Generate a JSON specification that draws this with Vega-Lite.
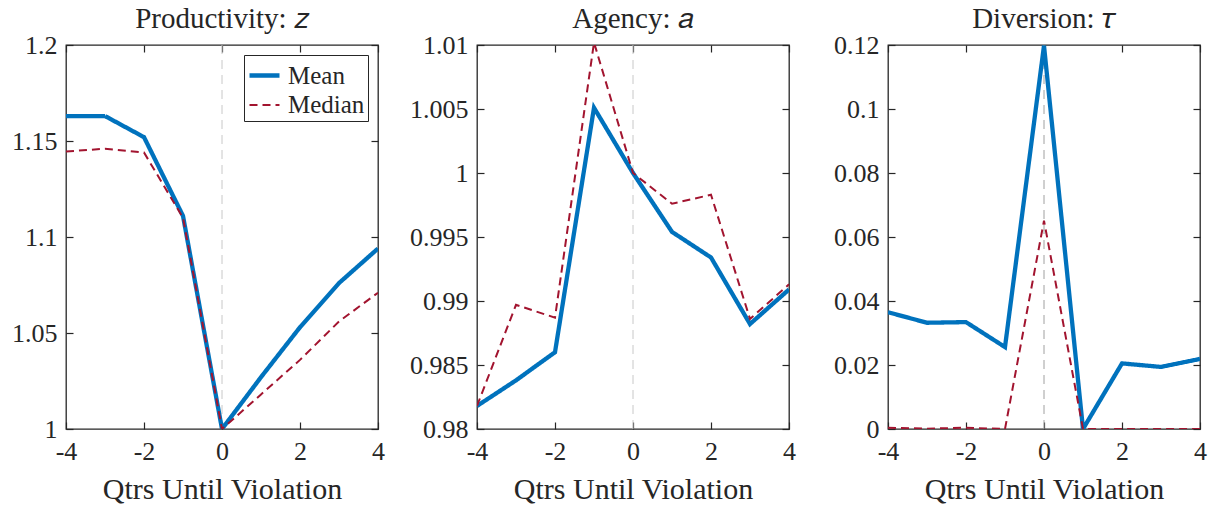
{
  "$schema": "https://vega.github.io/schema/vega-lite/v6.json",
  "background": "white",
  "padding": {"left": 10, "top": 4, "right": 5, "bottom": 2},
  "bounds": "flush",
  "spacing": 99,
  "config": {
    "font": "Liberation Serif",
    "view": {"stroke": "#262626", "strokeWidth": 1.3},
    "axis": {
      "labelFont": "Liberation Serif", "labelFontSize": 26, "labelColor": "#262626",
      "titleFont": "Liberation Serif", "titleFontSize": 30, "titleFontWeight": "normal", "titleColor": "#262626",
      "grid": false, "domain": false, "tickColor": "#262626", "tickSize": -7, "tickWidth": 1.2,
      "labelPadding": 16, "titlePadding": 10, "labelFlush": false, "labelOverlap": false
    },
    "title": {"font": "Liberation Serif", "fontSize": 29, "fontWeight": "normal", "color": "#262626", "offset": -2}
  },
  "datasets": {
    "z": [
      {"q": -4, "series": "Mean", "value": 1.163}, {"q": -3, "series": "Mean", "value": 1.163},
      {"q": -2, "series": "Mean", "value": 1.152}, {"q": -1, "series": "Mean", "value": 1.111},
      {"q": 0, "series": "Mean", "value": 1.0}, {"q": 1, "series": "Mean", "value": 1.027},
      {"q": 2, "series": "Mean", "value": 1.053}, {"q": 3, "series": "Mean", "value": 1.076},
      {"q": 4, "series": "Mean", "value": 1.094},
      {"q": -4, "series": "Median", "value": 1.1445}, {"q": -3, "series": "Median", "value": 1.146},
      {"q": -2, "series": "Median", "value": 1.144}, {"q": -1, "series": "Median", "value": 1.110},
      {"q": 0, "series": "Median", "value": 1.0}, {"q": 1, "series": "Median", "value": 1.018},
      {"q": 2, "series": "Median", "value": 1.036}, {"q": 3, "series": "Median", "value": 1.056},
      {"q": 4, "series": "Median", "value": 1.071}
    ],
    "a": [
      {"q": -4, "series": "Mean", "value": 0.9818}, {"q": -3, "series": "Mean", "value": 0.9838},
      {"q": -2, "series": "Mean", "value": 0.9860}, {"q": -1, "series": "Mean", "value": 1.0051},
      {"q": 0, "series": "Mean", "value": 1.0}, {"q": 1, "series": "Mean", "value": 0.9954},
      {"q": 2, "series": "Mean", "value": 0.9934}, {"q": 3, "series": "Mean", "value": 0.9882},
      {"q": 4, "series": "Mean", "value": 0.9909},
      {"q": -4, "series": "Median", "value": 0.9818}, {"q": -3, "series": "Median", "value": 0.9897},
      {"q": -2, "series": "Median", "value": 0.9887}, {"q": -1, "series": "Median", "value": 1.0102},
      {"q": 0, "series": "Median", "value": 1.0}, {"q": 1, "series": "Median", "value": 0.9976},
      {"q": 2, "series": "Median", "value": 0.9983}, {"q": 3, "series": "Median", "value": 0.9886},
      {"q": 4, "series": "Median", "value": 0.9913}
    ],
    "tau": [
      {"q": -4, "series": "Mean", "value": 0.0365}, {"q": -3, "series": "Mean", "value": 0.0332},
      {"q": -2, "series": "Mean", "value": 0.0334}, {"q": -1, "series": "Mean", "value": 0.0256},
      {"q": 0, "series": "Mean", "value": 0.1198}, {"q": 1, "series": "Mean", "value": 0.0},
      {"q": 2, "series": "Mean", "value": 0.0205}, {"q": 3, "series": "Mean", "value": 0.0194},
      {"q": 4, "series": "Mean", "value": 0.0219},
      {"q": -4, "series": "Median", "value": 0.0004}, {"q": -3, "series": "Median", "value": 0.0001},
      {"q": -2, "series": "Median", "value": 0.0004}, {"q": -1, "series": "Median", "value": 0.0},
      {"q": 0, "series": "Median", "value": 0.0651}, {"q": 1, "series": "Median", "value": 0.0},
      {"q": 2, "series": "Median", "value": 0.0}, {"q": 3, "series": "Median", "value": 0.0},
      {"q": 4, "series": "Median", "value": 0.0}
    ],
    "zero": [{"q": 0}]
  },
  "resolve": {"scale": {"color": "independent", "strokeDash": "independent", "strokeWidth": "independent"}},
  "hconcat": [
    {
      "width": 312, "height": 384,
      "title": "Productivity: 𝑧",
      "resolve": {"axis": {"x": "independent", "y": "independent"}},
      "layer": [
        {
          "data": {"name": "zero"},
          "mark": {"type": "rule", "color": "#c8c8c8", "strokeWidth": 1, "strokeDash": [9, 6]},
          "encoding": {
            "x": {"field": "q", "type": "quantitative", "scale": {"domain": [-4, 4], "nice": false},
                  "axis": {"orient": "bottom", "values": [-4, -2, 0, 2, 4], "labelExpr": "toString(datum.value)", "title": "Qtrs Until Violation"}}
          }
        },
        {
          "data": {"name": "z"},
          "mark": {"type": "line", "clip": true},
          "encoding": {
            "x": {"field": "q", "type": "quantitative", "scale": {"domain": [-4, 4], "nice": false},
                  "axis": {"orient": "top", "values": [-4, -2, 0, 2, 4], "labels": false, "title": null}},
            "y": {"field": "value", "type": "quantitative", "scale": {"domain": [1, 1.2], "nice": false, "zero": false},
                  "axis": {"orient": "left", "values": [1, 1.05, 1.1, 1.15, 1.2], "labelExpr": "toString(datum.value)", "title": null}},
            "color": {"field": "series", "type": "nominal", "scale": {"domain": ["Mean", "Median"], "range": ["#0072BD", "#A2142F"]},
                      "legend": {"orient": "top-right", "offset": 10, "title": null, "strokeColor": "#262626", "fillColor": "white",
                                 "padding": 3, "labelFont": "Liberation Serif", "labelFontSize": 25, "labelColor": "#262626",
                                 "symbolType": "stroke", "symbolSize": 900, "labelOffset": 6, "rowPadding": -2, "cornerRadius": 0}},
            "strokeDash": {"field": "series", "type": "nominal", "scale": {"domain": ["Mean", "Median"], "range": [[1, 0], [8, 5]]},
                      "legend": {"orient": "top-right", "offset": 10, "title": null, "strokeColor": "#262626", "fillColor": "white",
                                 "padding": 3, "labelFont": "Liberation Serif", "labelFontSize": 25, "labelColor": "#262626",
                                 "symbolType": "stroke", "symbolSize": 900, "labelOffset": 6, "rowPadding": -2, "cornerRadius": 0}},
            "strokeWidth": {"field": "series", "type": "nominal", "scale": {"domain": ["Mean", "Median"], "range": [4.3, 2]},
                      "legend": {"orient": "top-right", "offset": 10, "title": null, "strokeColor": "#262626", "fillColor": "white",
                                 "padding": 3, "labelFont": "Liberation Serif", "labelFontSize": 25, "labelColor": "#262626",
                                 "symbolType": "stroke", "symbolSize": 900, "labelOffset": 6, "rowPadding": -2, "cornerRadius": 0}}
          }
        },
        {
          "data": {"name": "z"},
          "mark": {"type": "point", "opacity": 0},
          "encoding": {
            "y": {"field": "value", "type": "quantitative", "scale": {"domain": [1, 1.2], "nice": false, "zero": false},
                  "axis": {"orient": "right", "values": [1, 1.05, 1.1, 1.15, 1.2], "labels": false, "title": null}}
          }
        }
      ]
    },
    {
      "width": 312, "height": 384,
      "title": "Agency: 𝑎",
      "resolve": {"axis": {"x": "independent", "y": "independent"}},
      "layer": [
        {
          "data": {"name": "zero"},
          "mark": {"type": "rule", "color": "#c8c8c8", "strokeWidth": 1, "strokeDash": [9, 6]},
          "encoding": {
            "x": {"field": "q", "type": "quantitative", "scale": {"domain": [-4, 4], "nice": false},
                  "axis": {"orient": "bottom", "values": [-4, -2, 0, 2, 4], "labelExpr": "toString(datum.value)", "title": "Qtrs Until Violation"}}
          }
        },
        {
          "data": {"name": "a"},
          "mark": {"type": "line", "clip": true},
          "encoding": {
            "x": {"field": "q", "type": "quantitative", "scale": {"domain": [-4, 4], "nice": false},
                  "axis": {"orient": "top", "values": [-4, -2, 0, 2, 4], "labels": false, "title": null}},
            "y": {"field": "value", "type": "quantitative", "scale": {"domain": [0.98, 1.01], "nice": false, "zero": false},
                  "axis": {"orient": "left", "values": [0.98, 0.985, 0.99, 0.995, 1, 1.005, 1.01], "labelExpr": "toString(datum.value)", "title": null}},
            "color": {"field": "series", "type": "nominal", "scale": {"domain": ["Mean", "Median"], "range": ["#0072BD", "#A2142F"]}, "legend": null},
            "strokeDash": {"field": "series", "type": "nominal", "scale": {"domain": ["Mean", "Median"], "range": [[1, 0], [8, 5]]}, "legend": null},
            "strokeWidth": {"field": "series", "type": "nominal", "scale": {"domain": ["Mean", "Median"], "range": [4.3, 2]}, "legend": null}
          }
        },
        {
          "data": {"name": "a"},
          "mark": {"type": "point", "opacity": 0},
          "encoding": {
            "y": {"field": "value", "type": "quantitative", "scale": {"domain": [0.98, 1.01], "nice": false, "zero": false},
                  "axis": {"orient": "right", "values": [0.98, 0.985, 0.99, 0.995, 1, 1.005, 1.01], "labels": false, "title": null}}
          }
        }
      ]
    },
    {
      "width": 312, "height": 384,
      "title": "Diversion: 𝜏",
      "resolve": {"axis": {"x": "independent", "y": "independent"}},
      "layer": [
        {
          "data": {"name": "zero"},
          "mark": {"type": "rule", "color": "#a0a0a0", "strokeWidth": 1, "strokeDash": [9, 6]},
          "encoding": {
            "x": {"field": "q", "type": "quantitative", "scale": {"domain": [-4, 4], "nice": false},
                  "axis": {"orient": "bottom", "values": [-4, -2, 0, 2, 4], "labelExpr": "toString(datum.value)", "title": "Qtrs Until Violation"}}
          }
        },
        {
          "data": {"name": "tau"},
          "mark": {"type": "line", "clip": true},
          "encoding": {
            "x": {"field": "q", "type": "quantitative", "scale": {"domain": [-4, 4], "nice": false},
                  "axis": {"orient": "top", "values": [-4, -2, 0, 2, 4], "labels": false, "title": null}},
            "y": {"field": "value", "type": "quantitative", "scale": {"domain": [0, 0.12], "nice": false},
                  "axis": {"orient": "left", "values": [0, 0.02, 0.04, 0.06, 0.08, 0.1, 0.12], "labelExpr": "toString(datum.value)", "title": null}},
            "color": {"field": "series", "type": "nominal", "scale": {"domain": ["Mean", "Median"], "range": ["#0072BD", "#A2142F"]}, "legend": null},
            "strokeDash": {"field": "series", "type": "nominal", "scale": {"domain": ["Mean", "Median"], "range": [[1, 0], [8, 5]]}, "legend": null},
            "strokeWidth": {"field": "series", "type": "nominal", "scale": {"domain": ["Mean", "Median"], "range": [4.3, 2]}, "legend": null}
          }
        },
        {
          "data": {"name": "tau"},
          "mark": {"type": "point", "opacity": 0},
          "encoding": {
            "y": {"field": "value", "type": "quantitative", "scale": {"domain": [0, 0.12], "nice": false},
                  "axis": {"orient": "right", "values": [0, 0.02, 0.04, 0.06, 0.08, 0.1, 0.12], "labels": false, "title": null}}
          }
        }
      ]
    }
  ]
}
